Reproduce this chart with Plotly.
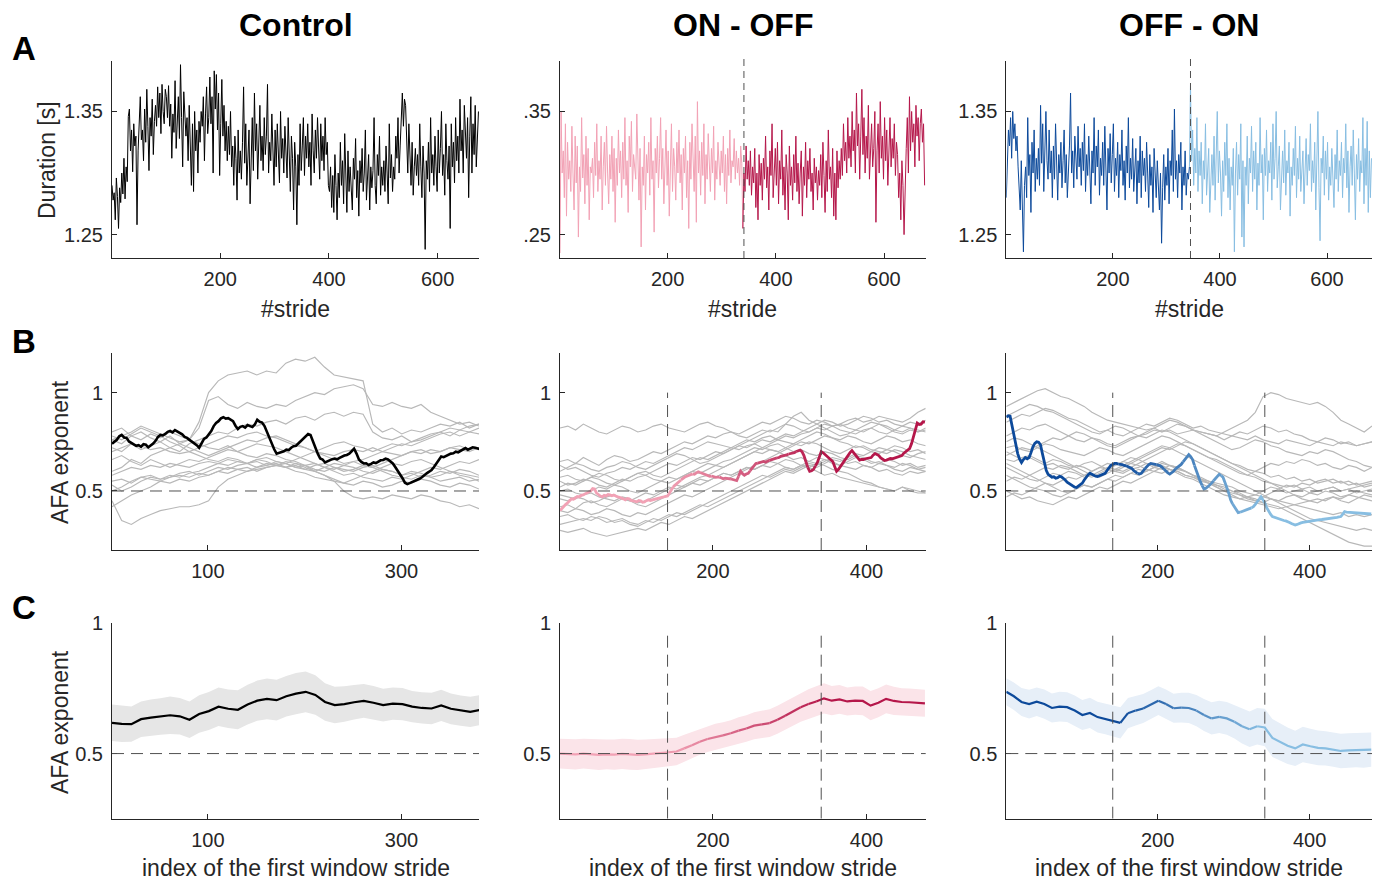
import numpy as np
import plotly.graph_objects as go

W, H = 1384, 883
FONT = "Liberation Sans, Arial, Helvetica, sans-serif"
AX = "#262626"

BLACK = "#000000"
GRAY = "#B8B8B8"
PINK = "#F2A2B5"
CRIMSON = "#B5174A"
DBLUE = "#0D4A9B"
LBLUE = "#88BEE2"
DASH = "#505050"
BAND = {0: "#E6E6E6", 1: "#FBE4E9", 2: "#E7EFF8"}

titles = ["Control", "ON - OFF", "OFF - ON"]

# ---------------- A: stride durations in ms, every second stride ----------------
ctrl_dur_ms = [
    1290, 1278, 1284, 1262, 1296, 1281, 1255, 1288, 1276, 1300,
    1283, 1312, 1279, 1305, 1293, 1346, 1352, 1318, 1335, 1301,
    1340, 1322, 1330, 1258, 1318, 1345, 1362, 1327, 1335, 1310,
    1352, 1325, 1368, 1338, 1302, 1345, 1330, 1360, 1315, 1342,
    1355, 1338, 1370, 1345, 1365, 1332, 1372, 1350, 1340, 1368,
    1362, 1345, 1371, 1338, 1356, 1312, 1348, 1333, 1375, 1320,
    1340, 1362, 1328, 1388, 1345, 1305, 1366, 1352, 1330, 1345,
    1310, 1355, 1325, 1290, 1340, 1285, 1350, 1318, 1335, 1300,
    1342, 1325, 1350, 1338, 1362, 1310, 1348, 1370, 1332, 1345,
    1378, 1340, 1362, 1300, 1383, 1352, 1380, 1335, 1365, 1298,
    1340, 1376, 1330, 1355, 1318, 1342, 1310, 1338, 1315, 1350,
    1305, 1322, 1290, 1330, 1312, 1278, 1335, 1300, 1318, 1295,
    1325, 1370, 1308, 1340, 1290, 1316, 1335, 1275, 1320, 1345,
    1302, 1365, 1318, 1340, 1295, 1325, 1355, 1310, 1330, 1302,
    1345, 1315, 1330, 1372, 1300, 1325, 1310, 1348, 1322, 1290,
    1335, 1305, 1340, 1318, 1292, 1350, 1312, 1328, 1300, 1338,
    1320, 1296, 1345, 1310, 1285, 1330, 1312, 1270, 1325, 1305,
    1258, 1315, 1290, 1340, 1302, 1322, 1345, 1298, 1330, 1312,
    1340, 1305, 1325, 1290, 1348, 1318, 1300, 1335, 1312, 1345,
    1322, 1295, 1340, 1310, 1330, 1302, 1345, 1315, 1325, 1290,
    1285, 1305, 1272, 1298, 1268, 1315, 1290, 1262, 1300, 1280,
    1325, 1290, 1310, 1275, 1332, 1295, 1268, 1318, 1285, 1305,
    1290, 1270, 1312, 1295, 1328, 1280, 1302, 1265, 1310, 1292,
    1320, 1285, 1300, 1335, 1278, 1295, 1315, 1270, 1305, 1288,
    1302, 1345, 1290, 1275, 1315, 1298, 1330, 1282, 1305, 1290,
    1310, 1285, 1322, 1300, 1275, 1340, 1296, 1315, 1285, 1305,
    1295, 1330, 1312, 1345, 1300, 1322, 1345, 1365, 1338, 1360,
    1355, 1318, 1300, 1340, 1310, 1290, 1325, 1282, 1305, 1320,
    1298, 1315, 1290, 1340, 1305, 1280, 1322, 1300, 1238, 1310,
    1295, 1325, 1285, 1345, 1300, 1315, 1290, 1330, 1305, 1285,
    1335, 1300, 1320, 1350, 1298, 1315, 1282, 1340, 1310, 1295,
    1322, 1255, 1340, 1305, 1325, 1292, 1345, 1310, 1330, 1300,
    1360, 1318, 1335, 1300, 1355, 1325, 1312, 1345, 1280, 1330,
    1362, 1300, 1340, 1315, 1355, 1305, 1325, 1350,
]

onoff_on_ms = [
    1235, 1350, 1300, 1318, 1280, 1340, 1265, 1325, 1295, 1310,
    1285, 1338, 1300, 1270, 1330, 1292, 1322, 1248, 1305, 1285,
    1345, 1296, 1315, 1275, 1330, 1290, 1320, 1262, 1305, 1300,
    1312, 1280, 1325, 1298, 1340, 1285, 1310, 1295, 1330, 1270,
    1305, 1325, 1290, 1338, 1300, 1275, 1315, 1295, 1330, 1285,
    1320, 1260, 1312, 1290, 1335, 1300, 1318, 1280, 1325, 1295,
    1345, 1290, 1310, 1268, 1330, 1305, 1342, 1285, 1315, 1300,
    1295, 1348, 1310, 1278, 1320, 1240, 1305, 1290, 1330, 1270,
    1315, 1300, 1325, 1282, 1345, 1295, 1310, 1252, 1320, 1300,
    1330, 1288, 1312, 1345, 1295, 1320, 1275, 1310, 1335, 1290,
    1318, 1265, 1300, 1340, 1285, 1320, 1305, 1278, 1325, 1300,
    1335, 1292, 1315, 1270, 1320, 1300, 1330, 1280, 1310, 1255,
    1325, 1295, 1340, 1308, 1285, 1330, 1260, 1358, 1300, 1318,
    1282, 1325, 1298, 1340, 1275, 1315, 1295, 1332, 1305, 1285,
    1320, 1300, 1338, 1278, 1310, 1295, 1325, 1305, 1290, 1318,
    1300, 1330, 1285, 1315, 1275, 1320, 1298, 1335, 1292, 1310,
    1305, 1328, 1295, 1318, 1300, 1312, 1290, 1322, 1308, 1255,
]
onoff_off_ms = [
    1300, 1285, 1322, 1295, 1310, 1290, 1318, 1282, 1305, 1292,
    1320, 1272, 1300, 1262, 1315, 1290, 1308, 1278, 1312, 1295,
    1330, 1288, 1305, 1270, 1318, 1298, 1340, 1280, 1300, 1320,
    1290, 1325, 1275, 1310, 1295, 1335, 1282, 1305, 1270, 1315,
    1300, 1262, 1322, 1290, 1305, 1278, 1315, 1292, 1330, 1285,
    1308, 1275, 1300, 1318, 1265, 1305, 1290, 1325, 1280, 1310,
    1295, 1320, 1285, 1300, 1270, 1312, 1292, 1305, 1278, 1302,
    1290, 1315, 1280, 1325, 1298, 1268, 1310, 1285, 1335, 1295,
    1305, 1280, 1320, 1265, 1300, 1262, 1318, 1288, 1310, 1295,
    1320, 1298, 1340, 1310, 1325, 1300, 1345, 1312, 1330, 1305,
    1350, 1318, 1335, 1300, 1365, 1322, 1340, 1295, 1330, 1368,
    1315, 1345, 1300, 1330, 1312, 1355, 1295, 1325, 1340, 1305,
    1320, 1350, 1260, 1318, 1340, 1300, 1358, 1312, 1330, 1295,
    1345, 1310, 1335, 1290, 1320, 1345, 1305, 1328, 1312, 1340,
    1298, 1325, 1315, 1280, 1300, 1262, 1310, 1290, 1250, 1300,
    1320, 1345, 1300, 1362, 1318, 1350, 1325, 1340, 1305, 1355,
    1330, 1345, 1310, 1340, 1352, 1325, 1340, 1290,
]

offon_off_ms = [
    1280, 1318, 1335, 1322, 1345, 1312, 1350, 1328, 1340, 1318,
    1330, 1305, 1292, 1270, 1310, 1275, 1236, 1290, 1305, 1280,
    1345, 1298, 1315, 1268, 1325, 1300, 1335, 1285, 1312, 1295,
    1320, 1290, 1355, 1308, 1340, 1285, 1325, 1350, 1310, 1295,
    1335, 1300, 1318, 1280, 1322, 1295, 1340, 1305, 1278, 1315,
    1300, 1325, 1288, 1310, 1335, 1292, 1315, 1280, 1305, 1322,
    1365, 1300, 1318, 1288, 1330, 1310, 1295, 1338, 1305, 1320,
    1290, 1325, 1302, 1340, 1285, 1315, 1298, 1330, 1308, 1275,
    1318, 1300, 1345, 1290, 1322, 1305, 1335, 1282, 1312, 1298,
    1325, 1290, 1338, 1305, 1270, 1320, 1300, 1332, 1292, 1315,
    1340, 1285, 1312, 1298, 1325, 1280, 1315, 1302, 1335, 1290,
    1310, 1278, 1322, 1300, 1345, 1288, 1312, 1295, 1328, 1285,
    1305, 1320, 1275, 1310, 1292, 1330, 1280, 1318, 1298, 1312,
    1285, 1325, 1300, 1272, 1315, 1290, 1305, 1268, 1320, 1295,
    1280, 1310, 1292, 1270, 1300, 1243, 1288, 1315, 1278, 1305,
    1290, 1320, 1275, 1310, 1298, 1335, 1285, 1352, 1295, 1310,
    1280, 1315, 1300, 1325, 1270, 1305, 1290, 1318, 1282, 1300,
    1295, 1305,
]
offon_on_ms = [
    1372, 1310, 1335, 1290, 1320, 1300, 1345, 1285, 1318, 1298,
    1325, 1275, 1310, 1295, 1340, 1282, 1305, 1320, 1268, 1300,
    1315, 1290, 1330, 1278, 1305, 1350, 1292, 1318, 1300, 1265,
    1310, 1285, 1325, 1298, 1340, 1280, 1312, 1270, 1305, 1290,
    1320, 1236, 1300, 1325, 1282, 1315, 1295, 1340, 1248, 1310,
    1240, 1305, 1290, 1330, 1275, 1312, 1300, 1338, 1285, 1318,
    1295, 1325, 1270, 1308, 1290, 1345, 1300, 1315, 1262, 1320,
    1298, 1335, 1285, 1310, 1300, 1325, 1278, 1340, 1295, 1312,
    1350, 1288, 1305, 1322, 1270, 1300, 1318, 1292, 1335, 1282,
    1310, 1300, 1325, 1265, 1305, 1290, 1320, 1298, 1338, 1280,
    1312, 1295, 1330, 1285, 1305, 1318, 1275, 1300, 1328, 1290,
    1315, 1302, 1340, 1285, 1310, 1292, 1325, 1270, 1305, 1350,
    1288, 1245, 1312, 1300, 1330, 1282, 1318, 1295, 1325, 1278,
    1305, 1290, 1320, 1300, 1272, 1315, 1295, 1335, 1285, 1310,
    1298, 1325, 1280, 1312, 1300, 1340, 1288, 1318, 1268, 1305,
    1322, 1290, 1335, 1300, 1262, 1315, 1295, 1328, 1285, 1310,
    1300, 1345, 1275, 1320, 1290, 1342, 1268, 1318, 1280, 1312,
]

switch_stride = [None, 341, 345]      # condition change in each recording

# ---------------- B: sliding-window AFA exponents ----------------
# individual subjects, values x100
ctrl_subjects = [
    [76, 74, 78, 76, 79, 77, 80, 78, 76, 85, 100, 106, 109, 110, 111, 109, 111, 110, 115, 117, 116, 118, 113, 109, 108, 107, 106, 84, 80, 82, 79, 81, 80, 82, 84, 83, 85, 82, 84],
    [72, 70, 74, 71, 73, 75, 72, 74, 76, 82, 96, 98, 94, 92, 95, 93, 92, 94, 93, 96, 98, 100, 99, 102, 103, 104, 102, 94, 93, 95, 93, 92, 94, 90, 88, 86, 84, 85, 83],
    [60, 62, 66, 64, 68, 70, 72, 70, 74, 76, 78, 80, 79, 82, 84, 83, 85, 86, 84, 87, 88, 86, 89, 90, 88, 90, 89, 80, 77, 76, 78, 75, 77, 79, 80, 78, 81, 80, 82],
    [45, 35, 33, 36, 38, 40, 41, 42, 42, 43, 45, 52, 56, 58, 60, 61, 62, 63, 62, 64, 63, 60, 58, 55, 50, 47, 46, 47, 46, 48, 47, 46, 48, 47, 45, 44, 42, 43, 41],
    [42, 45, 48, 50, 52, 55, 54, 56, 55, 57, 58, 60, 59, 61, 62, 60, 62, 63, 65, 64, 62, 60, 58, 56, 54, 53, 55, 54, 52, 53, 55, 54, 56, 55, 53, 52, 54, 53, 51],
    [55, 56, 54, 57, 58, 56, 57, 59, 60, 58, 60, 62, 61, 63, 64, 62, 63, 65, 64, 66, 68, 70, 72, 74, 75, 73, 72, 70, 72, 74, 73, 75, 76, 78, 80, 82, 81, 83, 84],
    [80, 82, 78, 80, 77, 75, 78, 74, 72, 70, 68, 70, 72, 74, 76, 75, 77, 78, 76, 74, 72, 70, 68, 66, 64, 65, 63, 62, 60, 58, 57, 56, 58, 57, 55, 56, 57, 55, 56],
    [70, 72, 74, 73, 71, 72, 70, 69, 70, 72, 74, 76, 78, 77, 79, 80, 78, 77, 75, 73, 72, 70, 69, 68, 70, 71, 70, 72, 70, 69, 68, 70, 71, 69, 70, 72, 71, 70, 72],
    [58, 60, 62, 61, 63, 62, 64, 63, 62, 64, 65, 64, 66, 65, 64, 66, 67, 65, 64, 62, 63, 61, 60, 62, 61, 60, 62, 63, 61, 60, 58, 60, 59, 57, 58, 60, 59, 58, 57],
    [53, 50, 52, 55, 57, 56, 58, 57, 59, 60, 62, 64, 63, 65, 64, 66, 65, 63, 64, 62, 61, 63, 64, 62, 60, 61, 63, 62, 64, 66, 68, 70, 69, 71, 70, 72, 73, 71, 72],
    [78, 76, 79, 82, 80, 78, 75, 73, 70, 68, 66, 65, 67, 66, 64, 65, 63, 64, 62, 63, 61, 60, 62, 64, 63, 65, 66, 68, 70, 72, 74, 73, 75, 77, 79, 80, 78, 80, 79],
    [66, 68, 65, 63, 66, 64, 62, 64, 66, 65, 67, 69, 71, 70, 72, 74, 73, 72, 70, 68, 66, 64, 62, 60, 58, 59, 57, 56, 55, 57, 56, 58, 60, 62, 61, 63, 65, 64, 66],
    [50, 52, 55, 57, 56, 55, 57, 58, 57, 59, 58, 60, 62, 61, 60, 62, 64, 63, 62, 60, 59, 57, 56, 55, 54, 56, 58, 60, 62, 64, 63, 65, 66, 64, 62, 60, 58, 57, 55],
    [76, 78, 80, 83, 81, 79, 77, 75, 76, 74, 72, 71, 73, 70, 68, 67, 69, 68, 66, 65, 63, 64, 62, 61, 63, 62, 60, 59, 61, 60, 58, 59, 57, 58, 60, 59, 61, 60, 58],
]
onoff_subjects = [
    [82, 83, 81, 84, 82, 80, 79, 81, 83, 82, 80, 81, 83, 84, 82, 81, 80, 82, 84, 85, 83, 82, 80, 79, 81, 83, 85, 84, 86, 88, 87, 85, 84, 86, 85, 83, 84, 86, 87, 85, 86, 88, 87, 86, 85, 87, 90, 92],
    [65, 66, 64, 67, 65, 63, 66, 68, 67, 65, 66, 68, 70, 69, 71, 73, 75, 74, 76, 78, 77, 79, 80, 78, 77, 79, 81, 80, 82, 84, 83, 81, 80, 82, 84, 83, 81, 80, 79, 81, 82, 80, 79, 81, 83, 82, 80, 81],
    [63, 61, 62, 60, 58, 57, 59, 60, 62, 61, 63, 65, 64, 66, 68, 70, 72, 71, 73, 75, 74, 73, 72, 74, 76, 75, 77, 78, 76, 75, 74, 76, 78, 80, 79, 77, 76, 78, 77, 75, 74, 76, 78, 77, 75, 76, 74, 73],
    [57, 58, 56, 55, 57, 59, 58, 56, 55, 57, 59, 60, 58, 57, 59, 61, 63, 65, 67, 66, 68, 70, 72, 71, 73, 74, 72, 71, 70, 72, 74, 73, 75, 74, 72, 70, 69, 71, 73, 72, 70, 69, 71, 70, 68, 67, 69, 70],
    [55, 53, 54, 56, 55, 53, 52, 54, 56, 55, 57, 58, 56, 55, 54, 56, 58, 60, 62, 64, 63, 65, 66, 68, 70, 72, 71, 73, 74, 72, 70, 71, 69, 68, 70, 69, 67, 66, 68, 67, 65, 64, 66, 65, 63, 64, 62, 63],
    [50, 51, 49, 48, 50, 52, 51, 53, 52, 50, 49, 51, 53, 55, 57, 56, 58, 60, 59, 61, 63, 62, 64, 66, 68, 70, 69, 71, 70, 68, 66, 67, 65, 64, 66, 65, 63, 62, 61, 63, 62, 60, 61, 59, 58, 60, 59, 60],
    [46, 45, 47, 46, 44, 45, 47, 48, 46, 45, 47, 49, 48, 50, 52, 51, 53, 55, 57, 58, 60, 62, 64, 66, 68, 70, 72, 74, 76, 78, 77, 79, 80, 82, 81, 83, 84, 82, 81, 83, 85, 84, 82, 80, 79, 81, 80, 82],
    [40, 39, 41, 40, 38, 39, 41, 40, 38, 37, 39, 38, 40, 42, 44, 46, 48, 47, 49, 51, 53, 55, 57, 59, 61, 63, 65, 67, 69, 71, 73, 75, 74, 76, 78, 77, 75, 74, 72, 73, 71, 70, 69, 71, 70, 68, 67, 66],
    [37, 38, 36, 35, 37, 36, 34, 35, 36, 34, 33, 35, 34, 36, 38, 37, 39, 41, 43, 42, 44, 46, 48, 50, 52, 54, 56, 58, 60, 62, 61, 63, 62, 60, 58, 59, 57, 56, 55, 54, 53, 52, 51, 50, 52, 51, 50, 49],
    [33, 34, 35, 36, 35, 37, 36, 34, 35, 33, 32, 34, 36, 35, 37, 39, 38, 40, 42, 44, 46, 48, 50, 52, 54, 56, 58, 57, 59, 61, 60, 62, 64, 63, 65, 67, 66, 64, 65, 63, 62, 64, 63, 61, 60, 62, 61, 60],
    [30, 29, 30, 31, 29, 28, 27, 28, 29, 30, 31, 30, 32, 34, 33, 35, 37, 36, 38, 40, 42, 44, 46, 48, 50, 52, 54, 56, 58, 60, 59, 61, 63, 62, 64, 66, 65, 67, 69, 68, 70, 72, 71, 73, 72, 70, 71, 69],
    [60, 62, 64, 63, 61, 60, 62, 63, 65, 64, 62, 61, 63, 65, 67, 69, 68, 66, 64, 65, 67, 69, 71, 73, 75, 77, 79, 81, 80, 84, 88, 90, 86, 84, 82, 80, 78, 79, 81, 80, 82, 84, 83, 81, 80, 82, 81, 80],
    [42, 43, 41, 44, 45, 43, 42, 44, 46, 45, 43, 42, 44, 46, 48, 50, 52, 54, 53, 55, 57, 59, 58, 60, 62, 61, 63, 65, 64, 62, 61, 63, 65, 67, 66, 64, 63, 65, 67, 66, 64, 65, 63, 62, 64, 63, 61, 62],
    [52, 54, 53, 55, 57, 56, 54, 53, 55, 57, 59, 58, 60, 62, 64, 63, 65, 67, 66, 68, 70, 69, 71, 73, 72, 74, 76, 75, 77, 79, 78, 80, 82, 84, 86, 85, 83, 84, 86, 88, 87, 85, 86, 84, 83, 85, 84, 86],
    [48, 47, 46, 48, 49, 47, 46, 45, 47, 46, 44, 45, 47, 49, 51, 53, 52, 54, 56, 55, 57, 59, 58, 60, 62, 61, 63, 62, 64, 66, 65, 63, 62, 64, 63, 61, 60, 59, 57, 55, 54, 52, 51, 50, 52, 50, 49, 49],
]
offon_subjects = [
    [93, 95, 97, 99, 101, 102, 100, 98, 97, 95, 93, 90, 88, 86, 85, 84, 83, 82, 81, 82, 80, 81, 79, 80, 81, 80, 79, 78, 80, 82, 84, 86, 90, 98, 100, 99, 97, 96, 95, 94, 95, 93, 90, 86, 84, 82, 80, 83],
    [85, 87, 89, 88, 90, 92, 91, 89, 87, 86, 84, 82, 80, 81, 79, 78, 80, 82, 84, 83, 85, 87, 86, 84, 82, 83, 81, 80, 79, 78, 77, 76, 78, 76, 75, 74, 76, 75, 74, 73, 75, 74, 73, 75, 74, 73, 74, 75],
    [78, 80, 82, 81, 83, 84, 82, 80, 78, 76, 75, 77, 76, 74, 73, 75, 77, 78, 80, 82, 84, 86, 85, 83, 81, 79, 77, 75, 73, 71, 72, 74, 76, 75, 73, 72, 70, 69, 68, 70, 69, 71, 70, 68, 66, 65, 63, 62],
    [72, 73, 71, 70, 72, 74, 73, 71, 70, 69, 68, 70, 72, 71, 69, 68, 70, 72, 74, 76, 78, 77, 75, 73, 71, 69, 67, 66, 64, 62, 60, 58, 57, 55, 54, 53, 52, 53, 51, 52, 50, 51, 52, 50, 51, 52, 53, 54],
    [70, 68, 66, 67, 65, 63, 64, 62, 61, 63, 62, 60, 62, 64, 63, 65, 67, 66, 64, 62, 63, 61, 60, 58, 57, 56, 55, 54, 53, 52, 50, 49, 48, 47, 46, 45, 44, 43, 42, 41, 40, 39, 38, 39, 37, 38, 37, 38],
    [66, 65, 67, 68, 66, 64, 66, 65, 63, 62, 64, 65, 63, 61, 60, 59, 61, 62, 64, 63, 65, 63, 62, 60, 58, 56, 54, 53, 51, 50, 48, 46, 45, 47, 49, 51, 53, 52, 54, 53, 55, 56, 54, 55, 53, 54, 52, 53],
    [62, 60, 58, 56, 55, 57, 59, 58, 60, 59, 57, 58, 60, 62, 61, 63, 65, 67, 69, 71, 73, 72, 70, 68, 66, 64, 62, 60, 58, 56, 54, 52, 50, 48, 46, 44, 42, 40, 38, 36, 35, 34, 33, 32, 31, 30, 31, 30],
    [58, 56, 54, 52, 51, 50, 48, 47, 49, 51, 53, 52, 54, 56, 55, 57, 59, 58, 60, 62, 61, 63, 62, 60, 58, 57, 55, 53, 52, 50, 49, 47, 46, 44, 43, 42, 40, 38, 36, 34, 32, 30, 28, 26, 24, 23, 22, 22],
    [50, 48, 46, 47, 45, 44, 43, 45, 47, 46, 48, 50, 52, 51, 53, 55, 54, 56, 58, 60, 59, 61, 60, 58, 57, 55, 54, 52, 50, 49, 48, 47, 48, 50, 52, 51, 49, 50, 51, 49, 50, 51, 52, 50, 51, 49, 50, 51],
    [75, 77, 76, 74, 72, 70, 68, 66, 64, 62, 60, 58, 57, 59, 61, 60, 62, 64, 66, 68, 70, 72, 74, 73, 71, 69, 67, 65, 63, 61, 59, 58, 60, 59, 57, 58, 56, 57, 55, 56, 54, 55, 56, 54, 55, 53, 54, 55],
    [88, 90, 92, 94, 93, 91, 90, 88, 86, 84, 82, 80, 79, 81, 83, 82, 80, 78, 79, 81, 80, 82, 84, 83, 81, 80, 79, 78, 76, 78, 80, 79, 81, 83, 82, 80, 81, 79, 78, 76, 75, 77, 76, 74, 75, 73, 74, 75],
    [68, 70, 72, 71, 73, 75, 77, 76, 78, 80, 79, 77, 75, 73, 72, 74, 76, 78, 77, 79, 81, 80, 78, 76, 74, 72, 70, 68, 66, 64, 63, 61, 60, 62, 64, 63, 65, 64, 66, 65, 63, 64, 62, 61, 63, 62, 60, 62],
    [55, 57, 56, 58, 60, 62, 61, 63, 62, 60, 58, 57, 59, 61, 60, 62, 64, 63, 61, 60, 62, 61, 59, 57, 56, 54, 52, 50, 48, 47, 46, 45, 44, 43, 42, 41, 42, 43, 44, 45, 46, 45, 47, 46, 48, 47, 46, 45],
    [64, 62, 60, 58, 56, 54, 52, 50, 49, 51, 53, 52, 54, 56, 58, 57, 59, 61, 60, 62, 64, 63, 61, 60, 58, 56, 54, 52, 50, 48, 46, 47, 45, 44, 46, 45, 47, 48, 46, 45, 44, 46, 47, 45, 44, 46, 48, 47],
    [47, 49, 48, 50, 52, 54, 53, 55, 57, 56, 58, 60, 62, 61, 63, 65, 64, 66, 68, 70, 72, 71, 73, 75, 74, 72, 70, 68, 66, 64, 62, 60, 58, 56, 54, 52, 50, 48, 47, 49, 48, 50, 49, 47, 48, 50, 49, 48],
]

# highlighted subject in each condition
ctrl_afa = [0.74, 0.752, 0.76, 0.778, 0.785, 0.772, 0.77, 0.752, 0.745, 0.738, 0.73, 0.733, 0.725, 0.738, 0.735, 0.722, 0.73, 0.741, 0.755, 0.775,
            0.785, 0.783, 0.79, 0.801, 0.805, 0.798, 0.81, 0.803, 0.795, 0.788, 0.775, 0.77, 0.76, 0.752, 0.74, 0.733, 0.72, 0.745, 0.765, 0.772,
            0.79, 0.805, 0.83, 0.846, 0.855, 0.869, 0.875, 0.868, 0.87, 0.862, 0.855, 0.832, 0.815, 0.826, 0.83, 0.822, 0.835, 0.83, 0.825, 0.838,
            0.862, 0.852, 0.848, 0.83, 0.8, 0.77, 0.74, 0.712, 0.69, 0.694, 0.7, 0.702, 0.71, 0.708, 0.72, 0.728, 0.73, 0.742, 0.755, 0.77,
            0.78, 0.79, 0.785, 0.75, 0.72, 0.69, 0.665, 0.66, 0.645, 0.652, 0.655, 0.662, 0.665, 0.661, 0.668, 0.676, 0.68, 0.683, 0.69, 0.702,
            0.715, 0.69, 0.66, 0.648, 0.64, 0.641, 0.632, 0.638, 0.645, 0.642, 0.65, 0.656, 0.658, 0.664, 0.66, 0.652, 0.64, 0.622, 0.605, 0.588,
            0.565, 0.542, 0.535, 0.54, 0.545, 0.548, 0.555, 0.562, 0.57, 0.582, 0.59, 0.598, 0.607, 0.622, 0.64, 0.66, 0.675, 0.672, 0.678, 0.686,
            0.69, 0.692, 0.7, 0.697, 0.705, 0.712, 0.718, 0.71, 0.715, 0.722, 0.72, 0.714, 0.712]
onoff_afa = [0.40, 0.412, 0.42, 0.432, 0.44, 0.452, 0.46, 0.458, 0.465, 0.472, 0.47, 0.478, 0.48, 0.486, 0.49, 0.497, 0.50, 0.512, 0.51, 0.49,
             0.48, 0.474, 0.47, 0.478, 0.475, 0.482, 0.48, 0.476, 0.48, 0.474, 0.47, 0.468, 0.465, 0.46, 0.455, 0.462, 0.46, 0.452, 0.45, 0.447,
             0.445, 0.452, 0.45, 0.443, 0.445, 0.451, 0.455, 0.452, 0.455, 0.46, 0.46, 0.462, 0.465, 0.468, 0.47, 0.474, 0.475, 0.49, 0.51, 0.522,
             0.53, 0.538, 0.545, 0.556, 0.565, 0.571, 0.575, 0.579, 0.58, 0.587, 0.585, 0.592, 0.598, 0.594, 0.59, 0.584, 0.58, 0.578, 0.575, 0.576,
             0.573, 0.569, 0.57, 0.571, 0.566, 0.562, 0.565, 0.563, 0.56, 0.561, 0.558, 0.555, 0.553, 0.575, 0.60, 0.588, 0.58, 0.586, 0.59, 0.603,
             0.615, 0.628, 0.64, 0.642, 0.645, 0.648, 0.65, 0.646, 0.65, 0.656, 0.66, 0.662, 0.665, 0.668, 0.67, 0.676, 0.68, 0.681, 0.683, 0.688,
             0.69, 0.692, 0.695, 0.701, 0.705, 0.708, 0.70, 0.68, 0.65, 0.62, 0.60, 0.603, 0.61, 0.628, 0.645, 0.672, 0.70, 0.694, 0.685, 0.676,
             0.67, 0.662, 0.65, 0.625, 0.60, 0.61, 0.625, 0.642, 0.655, 0.668, 0.68, 0.695, 0.705, 0.692, 0.68, 0.665, 0.657, 0.66, 0.66, 0.664,
             0.665, 0.668, 0.67, 0.682, 0.69, 0.685, 0.68, 0.668, 0.66, 0.655, 0.657, 0.662, 0.665, 0.664, 0.668, 0.67, 0.672, 0.678, 0.68, 0.692,
             0.70, 0.708, 0.715, 0.74, 0.775, 0.812, 0.845, 0.838, 0.84, 0.852, 0.85]
offon_afa = [0.875, 0.882, 0.88, 0.832, 0.78, 0.73, 0.69, 0.662, 0.645, 0.66, 0.67, 0.664, 0.67, 0.695, 0.725, 0.742, 0.75, 0.748, 0.735, 0.69,
             0.64, 0.605, 0.585, 0.578, 0.57, 0.572, 0.565, 0.568, 0.575, 0.572, 0.565, 0.556, 0.545, 0.538, 0.53, 0.524, 0.52, 0.518, 0.525, 0.532,
             0.54, 0.556, 0.57, 0.582, 0.59, 0.584, 0.58, 0.575, 0.573, 0.577, 0.58, 0.586, 0.59, 0.604, 0.62, 0.63, 0.635, 0.64, 0.64, 0.637,
             0.636, 0.634, 0.63, 0.628, 0.624, 0.62, 0.615, 0.604, 0.595, 0.59, 0.586, 0.59, 0.60, 0.614, 0.625, 0.634, 0.64, 0.638, 0.635, 0.634,
             0.632, 0.628, 0.62, 0.61, 0.60, 0.592, 0.586, 0.592, 0.60, 0.612, 0.62, 0.628, 0.635, 0.648, 0.66, 0.672, 0.685, 0.675, 0.66, 0.63,
             0.60, 0.575, 0.55, 0.528, 0.51, 0.514, 0.52, 0.53, 0.54, 0.552, 0.565, 0.576, 0.585, 0.578, 0.57, 0.545, 0.52, 0.49, 0.455, 0.435,
             0.42, 0.404, 0.39, 0.392, 0.395, 0.398, 0.403, 0.406, 0.41, 0.414, 0.42, 0.432, 0.445, 0.458, 0.47, 0.455, 0.44, 0.415, 0.395, 0.382,
             0.37, 0.366, 0.362, 0.358, 0.355, 0.352, 0.35, 0.348, 0.345, 0.34, 0.335, 0.33, 0.327, 0.33, 0.335, 0.338, 0.34, 0.342, 0.344, 0.343,
             0.345, 0.348, 0.35, 0.351, 0.353, 0.354, 0.355, 0.356, 0.357, 0.358, 0.36, 0.361, 0.362, 0.364, 0.366, 0.368, 0.37, 0.382, 0.395, 0.393,
             0.392, 0.39, 0.39, 0.391, 0.39, 0.388, 0.386, 0.385, 0.385, 0.384, 0.383, 0.384, 0.383]
afa_end = [381, 476, 481]
window_marks = [None, (141, 341), (141, 341)]

# ---------------- C: group mean AFA exponent with spread ----------------
ctrl_mean = [0.618, 0.614, 0.613, 0.632, 0.638, 0.642, 0.647, 0.643, 0.63, 0.652, 0.663, 0.68, 0.672, 0.668, 0.688, 0.703, 0.71, 0.705, 0.72, 0.73,
             0.737, 0.725, 0.698, 0.686, 0.69, 0.697, 0.702, 0.695, 0.686, 0.692, 0.69, 0.68, 0.675, 0.673, 0.685, 0.672, 0.665, 0.66, 0.667]
ctrl_sd = [0.07, 0.07, 0.068, 0.068, 0.07, 0.07, 0.072, 0.07, 0.07, 0.072, 0.073, 0.074, 0.074, 0.075, 0.076, 0.077, 0.078, 0.078, 0.078, 0.079,
           0.078, 0.076, 0.072, 0.07, 0.068, 0.066, 0.065, 0.064, 0.063, 0.062, 0.062, 0.06, 0.06, 0.06, 0.06, 0.059, 0.058, 0.058, 0.058]
onoff_mean = [0.50, 0.498, 0.497, 0.50, 0.498, 0.495, 0.497, 0.496, 0.499, 0.497, 0.495, 0.497, 0.50, 0.502, 0.505, 0.508, 0.52, 0.532, 0.545, 0.556,
              0.564, 0.57, 0.578, 0.588, 0.596, 0.607, 0.612, 0.617, 0.63, 0.645, 0.662, 0.678, 0.69, 0.70, 0.712, 0.703, 0.708, 0.70, 0.703, 0.702,
              0.684, 0.695, 0.71, 0.702, 0.698, 0.697, 0.695, 0.693]
onoff_sd = [0.057, 0.058, 0.058, 0.057, 0.058, 0.058, 0.057, 0.058, 0.058, 0.059, 0.058, 0.057, 0.056, 0.055, 0.054, 0.053, 0.052, 0.051, 0.05, 0.05,
            0.05, 0.05, 0.05, 0.051, 0.051, 0.052, 0.052, 0.053, 0.054, 0.055, 0.055, 0.056, 0.057, 0.058, 0.058, 0.056, 0.055, 0.054, 0.054, 0.055,
            0.056, 0.056, 0.055, 0.054, 0.053, 0.053, 0.052, 0.052]
offon_mean = [0.737, 0.72, 0.698, 0.69, 0.699, 0.69, 0.675, 0.68, 0.678, 0.665, 0.648, 0.656, 0.64, 0.633, 0.627, 0.618, 0.655, 0.665, 0.673, 0.688,
              0.703, 0.69, 0.674, 0.676, 0.675, 0.665, 0.648, 0.635, 0.641, 0.635, 0.622, 0.605, 0.593, 0.605, 0.60, 0.56, 0.545, 0.53, 0.52, 0.535,
              0.528, 0.522, 0.52, 0.515, 0.51, 0.512, 0.513, 0.512, 0.515]
offon_sd = [0.052, 0.053, 0.054, 0.055, 0.055, 0.056, 0.056, 0.057, 0.057, 0.058, 0.058, 0.058, 0.059, 0.059, 0.06, 0.06, 0.058, 0.057, 0.056, 0.055,
            0.055, 0.056, 0.056, 0.057, 0.058, 0.06, 0.061, 0.062, 0.062, 0.063, 0.064, 0.066, 0.068, 0.07, 0.072, 0.073, 0.072, 0.07, 0.068, 0.068,
            0.067, 0.067, 0.066, 0.066, 0.066, 0.066, 0.066, 0.066, 0.066]

# ---------------- layout geometry (pixels) ----------------
col_px = [(112, 479), (560, 925.7), (1006.3, 1372)]
row_px = [(61, 258), (353.3, 550), (623.3, 818.7)]
x_ranges = [
    [[1, 676], [1, 677], [1, 684]],
    [[1, 380], [1, 477], [1, 482]],
    [[1, 380], [1, 477], [1, 482]],
]
y_ranges = [[1.231, 1.391], [0.2, 1.2], [0.25, 1.0]]

fig = go.Figure()


def names(r, c):
    k = r * 3 + c + 1
    return ("x" if k == 1 else f"x{k}", "y" if k == 1 else f"y{k}", k)


def line(r, c, x, y, color, width, **kw):
    xa, ya, _ = names(r, c)
    fig.add_trace(go.Scatter(x=list(x), y=list(y), mode="lines",
                             line=dict(color=color, width=width),
                             xaxis=xa, yaxis=ya, hoverinfo="skip",
                             showlegend=False, **kw))


def mix(c0, c1, t):
    a = [int(c0[i:i + 2], 16) for i in (1, 3, 5)]
    b = [int(c1[i:i + 2], 16) for i in (1, 3, 5)]
    return "rgb(%d,%d,%d)" % tuple(round(a[k] + (b[k] - a[k]) * t) for k in range(3))


def gradient_line(r, c, x, y, c0, c1, xa_, xb_, width, steps=16):
    x = np.asarray(x, float)
    y = np.asarray(y, float)

    def col_at(i):
        xm = 0.5 * (x[i] + x[i + 1])
        t = min(max((xm - xa_) / (xb_ - xa_), 0.0), 1.0)
        return mix(c0, c1, round(t * steps) / steps)

    start, cur = 0, col_at(0)
    for i in range(1, len(x) - 1):
        ci = col_at(i)
        if ci != cur:
            line(r, c, x[start:i + 1], y[start:i + 1], cur, width)
            start, cur = i, ci
    line(r, c, x[start:], y[start:], cur, width)


# ---- row A: durations ----
def strides(first, n):
    return first + 2 * np.arange(n)


line(0, 0, strides(1, len(ctrl_dur_ms)), np.array(ctrl_dur_ms) / 1000, BLACK, 1)

x_on = strides(1, len(onoff_on_ms))
x_off = strides(switch_stride[1], len(onoff_off_ms))
line(0, 1, x_on, np.array(onoff_on_ms) / 1000, PINK, 1)
line(0, 1, np.r_[x_on[-1], x_off], np.r_[onoff_on_ms[-1], onoff_off_ms] / 1000, CRIMSON, 1)

x_off2 = strides(1, len(offon_off_ms))
x_on2 = strides(switch_stride[2], len(offon_on_ms))
line(0, 2, x_off2, np.array(offon_off_ms) / 1000, DBLUE, 1)
line(0, 2, np.r_[x_off2[-1], x_on2], np.r_[offon_off_ms[-1], offon_on_ms] / 1000, LBLUE, 1)

# ---- row B: individual subjects ----
subjects = [ctrl_subjects, onoff_subjects, offon_subjects]
for c in range(3):
    for s in subjects[c]:
        xs = np.linspace(1, x_ranges[1][c][1], len(s))
        line(1, c, xs, np.array(s) / 100, GRAY, 1.15)

line(1, 0, np.linspace(1, afa_end[0], len(ctrl_afa)), ctrl_afa, BLACK, 2.6)
gradient_line(1, 1, np.linspace(1, afa_end[1], len(onoff_afa)), onoff_afa, PINK, CRIMSON, *window_marks[1], 2.8)
gradient_line(1, 2, np.linspace(1, afa_end[2], len(offon_afa)), offon_afa, DBLUE, LBLUE, *window_marks[2], 2.8)

# ---- row C: mean +/- spread ----
means = [ctrl_mean, onoff_mean, offon_mean]
sds = [ctrl_sd, onoff_sd, offon_sd]
for c in range(3):
    m = np.array(means[c])
    s = np.array(sds[c])
    xs = np.linspace(1, afa_end[c], len(m))
    xa, ya, _ = names(2, c)
    fig.add_trace(go.Scatter(x=np.r_[xs, xs[::-1]], y=np.r_[m + s, (m - s)[::-1]],
                             mode="lines", line=dict(width=0), fill="toself",
                             fillcolor=BAND[c], xaxis=xa, yaxis=ya,
                             hoverinfo="skip", showlegend=False))
    if c == 0:
        line(2, 0, xs, m, BLACK, 2.2)
    elif c == 1:
        gradient_line(2, 1, xs, m, PINK, CRIMSON, *window_marks[1], 2.2)
    else:
        gradient_line(2, 2, xs, m, DBLUE, LBLUE, *window_marks[2], 2.2)

# ---- axes ----
layout = dict(width=W, height=H, margin=dict(l=0, r=0, t=0, b=0, pad=0, autoexpand=False),
              paper_bgcolor="white", plot_bgcolor="white", showlegend=False)
for r in range(3):
    for c in range(3):
        xa, ya, k = names(r, c)
        common = dict(showline=True, linecolor=AX, linewidth=1, ticks="inside",
                      ticklen=5, tickwidth=1, tickcolor=AX, showgrid=False,
                      zeroline=False, fixedrange=True, automargin=False,
                      tickfont=dict(family=FONT, size=20, color=AX))
        if r == 0:
            xt = [200, 400, 600]
            yt = [1.25, 1.35]
            ytt = [".25", ".35"] if c == 1 else ["1.25", "1.35"]
        else:
            xt = [100, 300] if c == 0 else [200, 400]
            yt = [0.5, 1]
            ytt = ["0.5", "1"]
        x0, x1 = col_px[c]
        y0, y1 = row_px[r]
        layout["xaxis" if k == 1 else f"xaxis{k}"] = dict(
            common, domain=[x0 / W, x1 / W], range=x_ranges[r][c],
            anchor=ya, tickvals=xt, ticktext=[str(v) for v in xt],
            ticklabelstandoff=3)
        layout["yaxis" if k == 1 else f"yaxis{k}"] = dict(
            common, domain=[1 - y1 / H, 1 - y0 / H], range=y_ranges[r],
            anchor=xa, tickvals=yt, ticktext=ytt, ticklabelstandoff=4)

# ---- reference lines ----
shapes = []
dash = "12px,7px"
for c in range(3):
    for r in (1, 2):
        xa, ya, _ = names(r, c)
        shapes.append(dict(type="line", xref=f"{xa} domain", yref=ya, x0=0, x1=1,
                           y0=0.5, y1=0.5, layer="above",
                           line=dict(color=DASH, width=1, dash=dash)))
    if c > 0:
        xa, ya, _ = names(0, c)
        shapes.append(dict(type="line", xref=xa, yref=f"{ya} domain",
                           x0=switch_stride[c], x1=switch_stride[c], y0=0, y1=1.01,
                           layer="above", line=dict(color=DASH, width=1, dash="7px,5px")))
        for r, (lo, hi) in ((1, (0.2, 1.0)), (2, (0.25, 0.965))):
            xa, ya, _ = names(r, c)
            for xv in window_marks[c]:
                shapes.append(dict(type="line", xref=xa, yref=ya, x0=xv, x1=xv,
                                   y0=lo, y1=hi, layer="above",
                                   line=dict(color=DASH, width=1, dash=dash)))
layout["shapes"] = shapes

# ---- text ----
ann = []


def text(px, py, s, size, bold=False, angle=0, xanchor="center"):
    ann.append(dict(x=px / W, y=1 - py / H, xref="paper", yref="paper",
                    text=f"<b>{s}</b>" if bold else s, showarrow=False,
                    xanchor=xanchor, yanchor="middle", textangle=angle,
                    font=dict(family=FONT, size=size, color="black" if bold else AX)))


for c in range(3):
    cx = 0.5 * (col_px[c][0] + col_px[c][1])
    text(cx, 25, titles[c], 32, bold=True)
    text(cx, 309, "#stride", 23)
    text(cx, 868, "index of the first window stride", 23)

text(10, 49, "A", 33, bold=True, xanchor="left")
text(10, 341, "B", 33, bold=True, xanchor="left")
text(10, 607, "C", 33, bold=True, xanchor="left")
text(47, 160, "Duration [s]", 23, angle=-90)
text(60, 452, "AFA exponent", 23, angle=-90)
text(60, 722, "AFA exponent", 23, angle=-90)
layout["annotations"] = ann

fig.update_layout(**layout)
fig.write_html("out.html")
